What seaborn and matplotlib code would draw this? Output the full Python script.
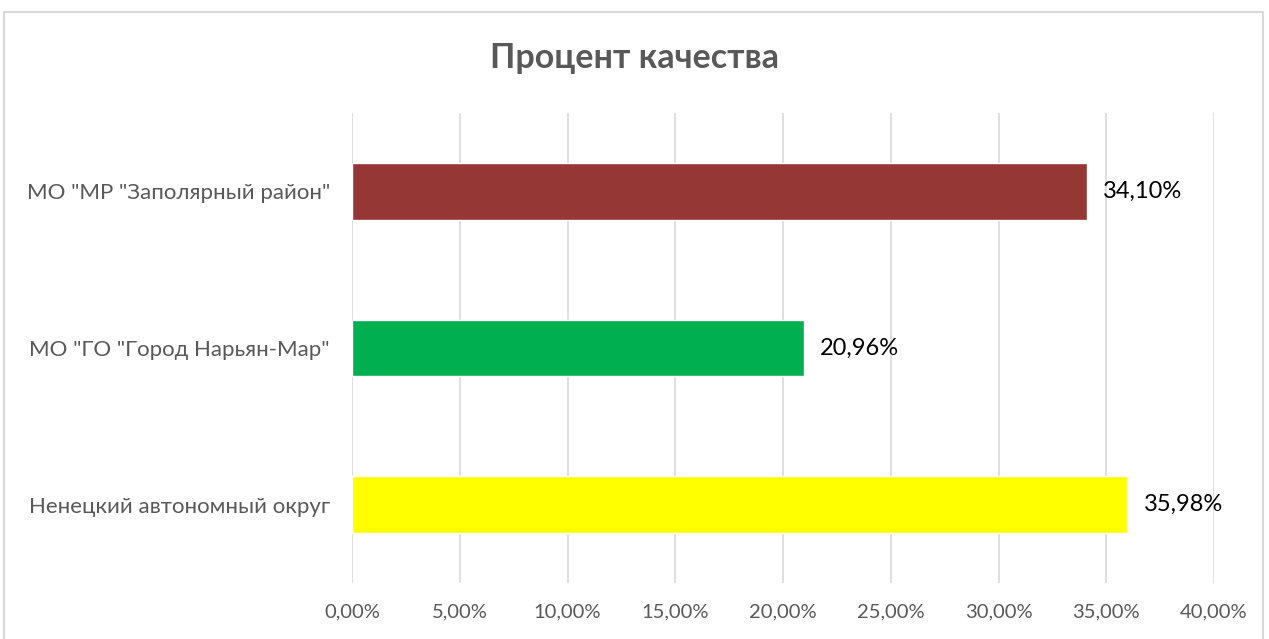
import seaborn as sns
import matplotlib.pyplot as plt
import pandas as pd
from matplotlib.patches import Rectangle
from matplotlib.ticker import FuncFormatter

# data
categories = ['МО "МР "Заполярный район"', 'МО "ГО "Город Нарьян-Мар"', 'Ненецкий автономный округ']
values = [34.10, 20.96, 35.98]
colors = ["#953735", "#00B050", "#FFFF00"]

df = pd.DataFrame({"region": categories, "pct": values})

sns.set_style("white")
plt.rcParams["font.family"] = ["Lato", "DejaVu Sans"]

fig = plt.figure(figsize=(12.69, 6.39), dpi=100)
ax = fig.add_axes([0.2774, 0.0876, 0.6793, 0.7355])

sns.barplot(data=df, y="region", x="pct", hue="region", palette=colors,
            order=categories, width=0.36, legend=False, ax=ax, saturation=1)

ax.set_xlim(0, 40)
ax.set_ylim(2.5, -0.5)
ax.set_xticks(range(0, 41, 5))
ax.xaxis.set_major_formatter(FuncFormatter(lambda v, p: f"{v:.2f}%".replace(".", ",")))
ax.grid(axis="x", color="#d9d9d9", linewidth=1.2)
ax.set_axisbelow(True)
for s in ["top", "right", "bottom", "left"]:
    ax.spines[s].set_visible(False)
ax.tick_params(axis="both", length=0, labelcolor="#595959")
ax.tick_params(axis="x", pad=15, labelsize=14.5)
ax.tick_params(axis="y", pad=16, labelsize=16)
ax.set_xlabel("")
ax.set_ylabel("")

for i, v in enumerate(values):
    ax.text(v + 0.75, i, f"{v:.2f}%".replace(".", ","), va="center", ha="left",
            fontsize=17, color="black")

fig.text(0.5, 0.909, "Процент качества", ha="center", va="center",
         fontsize=24.5, fontweight="bold", color="#595959")

fig.patches.append(Rectangle((0.003, -0.05), 0.992, 1.031, transform=fig.transFigure,
                             fill=False, edgecolor="#d9d9d9", linewidth=1.5))

fig.savefig("out.png", dpi=100)
